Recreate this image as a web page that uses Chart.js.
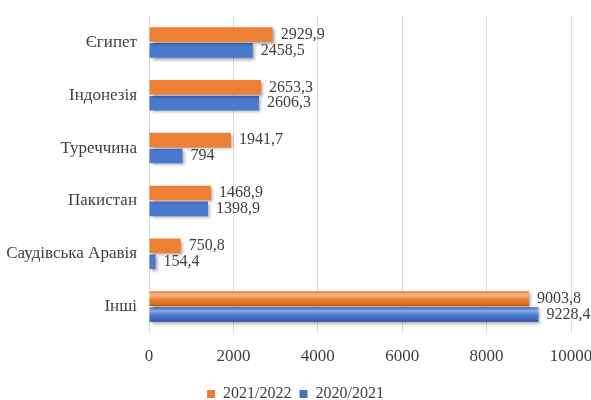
<!DOCTYPE html>
<html>
<head>
<meta charset="utf-8">
<script src="https://cdn.jsdelivr.net/npm/chart.js@4"></script>
<style>
  html, body { margin: 0; padding: 0; background: #fff; }
  #wrap { width: 591px; height: 400px; }
</style>
</head>
<body>
<div id="wrap"><canvas id="chart"></canvas></div>
<script>
'use strict';

const countries = ['Єгипет', 'Індонезія', 'Туреччина', 'Пакистан', 'Саудівська Аравія', 'Інші'];
const season2122 = [2929.9, 2653.3, 1941.7, 1468.9, 750.8, 9003.8];
const season2021 = [2458.5, 2606.3, 794, 1398.9, 154.4, 9228.4];
const xTicks = [0, 2000, 4000, 6000, 8000, 10000];

const serif = "'Liberation Serif', 'Times New Roman', serif";

// shiny bars: vertical gradient for every bar, drawn from its own position
const barShine = {
    id: 'barShine',
    beforeDatasetsDraw(chart) {
        const ctx = chart.ctx;
        const shades = [
            ['#f8b98a', '#ee8035', '#e0701f', '#b5550f'],
            ['#8cade9', '#4a78cc', '#3c68bd', '#28498f']
        ];
        chart.data.datasets.forEach((ds, di) => {
            const c = shades[di];
            chart.getDatasetMeta(di).data.forEach(bar => {
                const top = bar.y - bar.height / 2;
                const bottom = bar.y + bar.height / 2;
                const g = ctx.createLinearGradient(0, top, 0, bottom);
                g.addColorStop(0, c[1]);
                g.addColorStop(0.25, c[0]);
                g.addColorStop(0.55, c[1]);
                g.addColorStop(0.85, c[2]);
                g.addColorStop(1, c[3]);
                bar.options.backgroundColor = g;
            });
        });
        ctx.save();
        ctx.shadowColor = 'rgba(0,0,0,0.35)';
        ctx.shadowOffsetX = 2;
        ctx.shadowOffsetY = 2;
        ctx.shadowBlur = 3;
    },
    afterDatasetsDraw(chart) {
        const ctx = chart.ctx;
        ctx.restore();
        ctx.save();
        ctx.font = '16px ' + serif;
        ctx.fillStyle = '#404040';
        ctx.textBaseline = 'middle';
        ctx.textAlign = 'left';
        chart.data.datasets.forEach((ds, di) => {
            chart.getDatasetMeta(di).data.forEach((bar, i) => {
                const label = String(ds.data[i]).replace('.', ',');
                ctx.fillText(label, bar.x + 8, bar.y);
            });
        });
        ctx.restore();
    }
};

new Chart(document.getElementById('chart'), {
    type: 'bar',
    data: {
        labels: countries,
        datasets: [
            {
                label: '2021/2022',
                data: season2122,
                backgroundColor: '#ed7d31',
                borderWidth: 0
            },
            {
                label: '2020/2021',
                data: season2021,
                backgroundColor: '#4472c4',
                borderWidth: 0
            }
        ]
    },
    options: {
        indexAxis: 'y',
        responsive: true,
        maintainAspectRatio: false,
        animation: false,
        categoryPercentage: 0.6,
        barPercentage: 0.92,
        layout: { padding: { top: 16, right: 0, left: 0, bottom: -12 } },
        scales: {
            x: {
                min: 0,
                max: 10000,
                afterBuildTicks: axis => { axis.ticks = xTicks.map(v => ({ value: v })); },
                afterFit: axis => { axis.height = 45; axis.paddingRight = 20; },
                grid: { color: '#d9d9d9', drawTicks: false },
                border: { display: false },
                ticks: {
                    padding: 13,
                    color: '#404040',
                    font: { family: serif, size: 17 },
                    callback: v => String(v)
                }
            },
            y: {
                afterFit: axis => { axis.width = 149; axis.paddingTop = 0; axis.paddingBottom = 0; },
                grid: { display: false, drawTicks: false },
                border: { display: false },
                ticks: {
                    padding: 12,
                    color: '#404040',
                    font: { family: serif, size: 17 }
                }
            }
        },
        plugins: {
            legend: {
                position: 'bottom',
                labels: {
                    boxWidth: 8,
                    boxHeight: 8,
                    padding: 8,
                    color: '#404040',
                    font: { family: serif, size: 16 }
                }
            },
            tooltip: { enabled: false }
        }
    },
    plugins: [barShine]
});
</script>
</body>
</html>
